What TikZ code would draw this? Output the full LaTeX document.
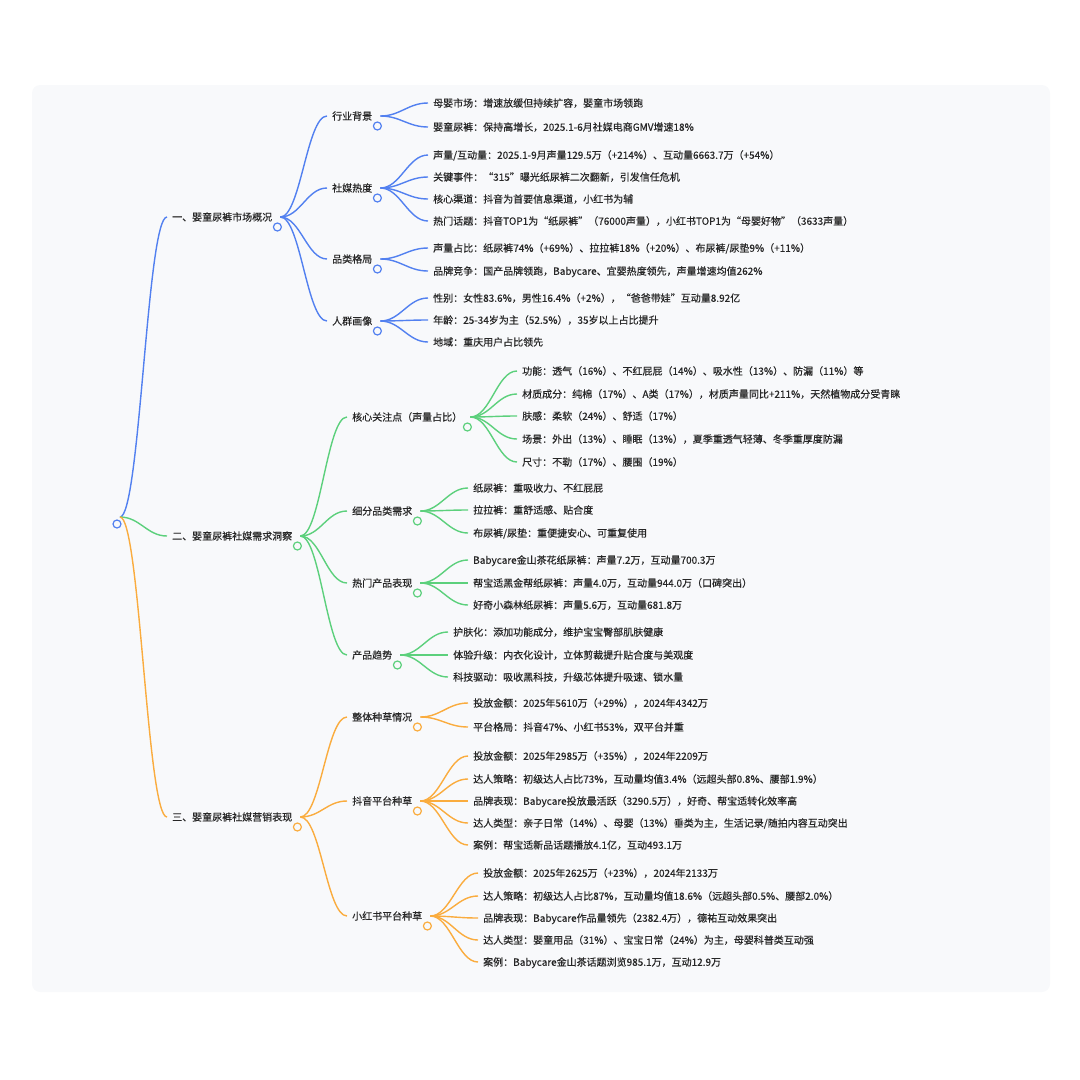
\documentclass[tikz,border=0pt]{standalone}
\usepackage{fontspec}
\setmainfont{Noto Sans CJK SC}[FakeBold=0.4]
\usepackage{tikz}
\definecolor{bgpaper}{RGB}{248,249,251}
\definecolor{ink}{RGB}{38,38,38}
\definecolor{cblue}{RGB}{82,128,240}
\definecolor{cgreen}{RGB}{92,208,124}
\definecolor{corange}{RGB}{250,172,62}

\begin{document}
\begin{tikzpicture}[x=1pt,y=-1pt,
  leaf/.style={anchor=west,inner xsep=5pt,inner ysep=0pt,text height=8.8pt,text depth=1.2pt,
    font=\fontsize{10pt}{12pt}\selectfont,text=ink},
  fold/.style={circle,minimum size=8pt,inner sep=0pt,line width=1.2pt,fill=bgpaper},
  twig/.style={out=0,in=180,distance=20pt},
  bl/.style={cblue,line width=1.4pt},
  gl/.style={cgreen,line width=1.4pt},
  ol/.style={corange,line width=1.4pt}]
\useasboundingbox (0,0) rectangle (1080,1080);
\fill[bgpaper,rounded corners=8pt] (32,85) rectangle (1050,992);

% root and main topics
\coordinate (k0) at (120,517);
\node[leaf] (t1) at (167,217) {一、婴童尿裤市场概况};
\node[leaf] (t2) at (167,536) {二、婴童尿裤社媒需求洞察};
\node[leaf] (t3) at (167,817) {三、婴童尿裤社媒营销表现};
\draw[bl] (k0) to[twig] (t1.west);
\draw[gl] (k0) to[twig] (t2.west);
\draw[ol] (k0) to[twig] (t3.west);
\foreach \n in {1,2,3}
  \coordinate (k\n) at ([xshift=3pt]t\n.east);

% sub topics
\node[leaf] (s11) at (327,116) {行业背景};
\node[leaf] (s12) at (327,188) {社媒热度};
\node[leaf] (s13) at (327,259) {品类格局};
\node[leaf] (s14) at (327,321) {人群画像};
\node[leaf] (s21) at (347,417) {核心关注点（声量占比）};
\node[leaf] (s22) at (347,511) {细分品类需求};
\node[leaf] (s23) at (347,583) {热门产品表现};
\node[leaf] (s24) at (347,655) {产品趋势};
\node[leaf] (s31) at (347,717) {整体种草情况};
\node[leaf] (s32) at (347,801) {抖音平台种草};
\node[leaf] (s33) at (347,916) {小红书平台种草};
\foreach \s in {s11,s12,s13,s14}{
  \draw[bl] (k1) to[twig] (\s.west);
  \coordinate (k\s) at ([xshift=3pt]\s.east);
}
\foreach \s in {s21,s22,s23,s24}{
  \draw[gl] (k2) to[twig] (\s.west);
  \coordinate (k\s) at ([xshift=3pt]\s.east);
}
\foreach \s in {s31,s32,s33}{
  \draw[ol] (k3) to[twig] (\s.west);
  \coordinate (k\s) at ([xshift=3pt]\s.east);
}

% leaves
\foreach \y/\t [count=\i] in {103/{母婴市场：增速放缓但持续扩容，婴童市场领跑},
  127/{婴童尿裤：保持高增长，2025.1-6月社媒电商GMV增速18\%}}{
  \node[leaf] (a11\i) at (428,\y) {\t};
  \draw[bl] (ks11) to[twig] (a11\i.west);
}
\foreach \y/\t [count=\i] in {155/{声量/互动量：2025.1-9月声量129.5万（+214\%）、互动量6663.7万（+54\%）},
  177/{关键事件：“315”曝光纸尿裤二次翻新，引发信任危机},
  199/{核心渠道：抖音为首要信息渠道，小红书为辅},
  221/{热门话题：抖音TOP1为“纸尿裤”（76000声量），小红书TOP1为“母婴好物”（3633声量）}}{
  \node[leaf] (a12\i) at (428,\y) {\t};
  \draw[bl] (ks12) to[twig] (a12\i.west);
}
\foreach \y/\t [count=\i] in {248/{声量占比：纸尿裤74\%（+69\%）、拉拉裤18\%（+20\%）、布尿裤/尿垫9\%（+11\%）},
  271/{品牌竞争：国产品牌领跑，Babycare、宜婴热度领先，声量增速均值262\%}}{
  \node[leaf] (a13\i) at (428,\y) {\t};
  \draw[bl] (ks13) to[twig] (a13\i.west);
}
\foreach \y/\t [count=\i] in {298/{性别：女性83.6\%，男性16.4\%（+2\%），“爸爸带娃”互动量8.92亿},
  320/{年龄：25-34岁为主（52.5\%），35岁以上占比提升},
  342/{地域：重庆用户占比领先}}{
  \node[leaf] (a14\i) at (428,\y) {\t};
  \draw[bl] (ks14) to[twig] (a14\i.west);
}
\foreach \y/\t [count=\i] in {371/{功能：透气（16\%）、不红屁屁（14\%）、吸水性（13\%）、防漏（11\%）等},
  394/{材质成分：纯棉（17\%）、A类（17\%），材质声量同比+211\%，天然植物成分受青睐},
  416/{肤感：柔软（24\%）、舒适（17\%）},
  439/{场景：外出（13\%）、睡眠（13\%），夏季重透气轻薄、冬季重厚度防漏},
  462/{尺寸：不勒（17\%）、腰围（19\%）}}{
  \node[leaf] (a21\i) at (517,\y) {\t};
  \draw[gl] (ks21) to[twig] (a21\i.west);
}
\foreach \y/\t [count=\i] in {488/{纸尿裤：重吸收力、不红屁屁},
  510/{拉拉裤：重舒适感、贴合度},
  533/{布尿裤/尿垫：重便捷安心、可重复使用}}{
  \node[leaf] (a22\i) at (468,\y) {\t};
  \draw[gl] (ks22) to[twig] (a22\i.west);
}
\foreach \y/\t [count=\i] in {560/{Babycare金山茶花纸尿裤：声量7.2万，互动量700.3万},
  583/{帮宝适黑金帮纸尿裤：声量4.0万，互动量944.0万（口碑突出）},
  605/{好奇小森林纸尿裤：声量5.6万，互动量681.8万}}{
  \node[leaf] (a23\i) at (468,\y) {\t};
  \draw[gl] (ks23) to[twig] (a23\i.west);
}
\foreach \y/\t [count=\i] in {632/{护肤化：添加功能成分，维护宝宝臀部肌肤健康},
  655/{体验升级：内衣化设计，立体剪裁提升贴合度与美观度},
  677/{科技驱动：吸收黑科技，升级芯体提升吸速、锁水量}}{
  \node[leaf] (a24\i) at (448,\y) {\t};
  \draw[gl] (ks24) to[twig] (a24\i.west);
}
\foreach \y/\t [count=\i] in {703/{投放金额：2025年5610万（+29\%），2024年4342万},
  727/{平台格局：抖音47\%、小红书53\%，双平台并重}}{
  \node[leaf] (a31\i) at (468,\y) {\t};
  \draw[ol] (ks31) to[twig] (a31\i.west);
}
\foreach \y/\t [count=\i] in {756/{投放金额：2025年2985万（+35\%），2024年2209万},
  779/{达人策略：初级达人占比73\%，互动量均值3.4\%（远超头部0.8\%、腰部1.9\%）},
  801/{品牌表现：Babycare投放最活跃（3290.5万），好奇、帮宝适转化效率高},
  823/{达人类型：亲子日常（14\%）、母婴（13\%）垂类为主，生活记录/随拍内容互动突出},
  845/{案例：帮宝适新品话题播放4.1亿，互动493.1万}}{
  \node[leaf] (a32\i) at (468,\y) {\t};
  \draw[ol] (ks32) to[twig] (a32\i.west);
}
\foreach \y/\t [count=\i] in {873/{投放金额：2025年2625万（+23\%），2024年2133万},
  896/{达人策略：初级达人占比87\%，互动量均值18.6\%（远超头部0.5\%、腰部2.0\%）},
  918/{品牌表现：Babycare作品量领先（2382.4万），德祐互动效果突出},
  940/{达人类型：婴童用品（31\%）、宝宝日常（24\%）为主，母婴科普类互动强},
  962/{案例：Babycare金山茶话题浏览985.1万，互动12.9万}}{
  \node[leaf] (a33\i) at (478,\y) {\t};
  \draw[ol] (ks33) to[twig] (a33\i.west);
}

% fold marks
\node[fold,draw=cblue] (o0) at ([shift={(-3,7)}]k0) {};
\node[fold,draw=cblue] (o1) at ([shift={(-3,10)}]k1) {};
\node[fold,draw=cgreen] (o2) at ([shift={(-3,10)}]k2) {};
\node[fold,draw=corange] (o3) at ([shift={(-3,10)}]k3) {};
\foreach \s in {s11,s12,s13,s14}
  \node[fold,draw=cblue] (o\s) at ([shift={(-3,10)}]k\s) {};
\foreach \s in {s21,s22,s23,s24}
  \node[fold,draw=cgreen] (o\s) at ([shift={(-3,10)}]k\s) {};
\foreach \s in {s31,s32,s33}
  \node[fold,draw=corange] (o\s) at ([shift={(-3,10)}]k\s) {};
\end{tikzpicture}
\end{document}
